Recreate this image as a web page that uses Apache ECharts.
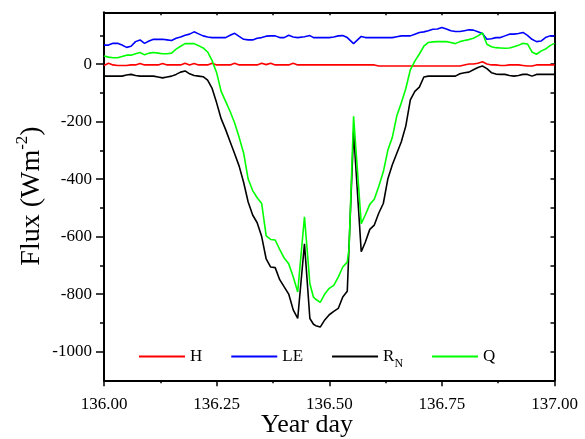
<!DOCTYPE html>
<html>
<head>
<meta charset="utf-8">
<script src="https://cdn.jsdelivr.net/npm/echarts@6/dist/echarts.min.js"></script>
<style>
html,body{margin:0;padding:0;background:#fff;}
#c{width:585px;height:439px;}
</style>
</head>
<body>
<div id="c"></div>
<script>
// Year day sample times
const times = [
136.00,136.01,136.02,136.03,136.04,136.05,136.06,136.07,136.08,136.09,
136.10,136.11,136.12,136.13,136.14,136.15,136.16,136.17,136.18,136.19,
136.20,136.21,136.22,136.23,136.24,136.25,136.26,136.27,136.28,136.29,
136.30,136.31,136.32,136.33,136.34,136.35,136.36,136.37,136.38,136.39,
136.40,136.41,136.42,136.43,
136.445,136.457,136.465,
136.47,136.48,136.49,136.50,136.51,136.52,136.53,136.54,
136.544,136.554,136.571,
136.58,136.59,
136.60,136.61,136.62,136.63,136.64,136.65,136.66,136.67,136.68,136.69,
136.70,136.71,136.72,136.73,136.74,136.75,136.76,136.77,136.78,136.79,
136.80,136.81,136.82,136.83,136.84,136.85,136.86,136.87,136.88,136.89,
136.90,136.91,136.92,136.93,136.94,136.95,136.96,136.97,136.98,136.99,
137.00
];
// Sensible heat flux H
const H = [
-5,3,-3,-5,-5,-5,-3,-3,2,-3,
-3,-3,-3,2,-3,-3,-3,-3,3,-3,
2,-3,-3,-3,3,-3,-3,-3,-3,3,
-3,-3,-3,-3,-3,3,-2,3,-3,-3,
-3,-3,3,-3,
-3,-3,-3,
-3,-3,-3,-3,-3,-3,-3,-3,
-3,-3,-3,
-3,-3,
-3,-7,-7,-7,-7,-7,-7,-7,-7,-7,
-7,-7,-7,-7,-7,-7,-7,-7,-7,-7,
-3,0,0,3,8,0,-3,-3,-5,-5,
-3,-3,-3,-5,-7,-7,-3,-3,-3,-3,
-3
];
// Latent heat flux LE
const LE = [
66,66,72,72,66,58,62,78,84,72,
80,86,86,86,84,82,90,94,100,104,
112,105,98,94,92,92,92,92,100,107,
96,86,84,84,90,92,97,98,98,92,
92,100,94,92,
95,99,92,
92,92,92,92,94,98,99,92,
88,71,96,
92,92,
92,92,92,92,92,95,98,98,98,104,
110,112,116,121,122,127,122,116,113,113,
116,119,118,112,106,86,88,92,92,98,
104,104,106,110,100,86,78,80,92,98,
98
];
// Net radiation RN
const RN = [
-42,-42,-42,-42,-42,-38,-36,-40,-42,-42,
-42,-42,-45,-48,-45,-42,-36,-28,-24,-34,
-40,-42,-44,-56,-85,-135,-190,-228,-270,-312,
-355,-412,-480,-525,-552,-600,-678,-706,-708,-750,
-775,-800,-855,-885,
-625,-885,-905,
-910,-915,-890,-872,-860,-850,-810,-790,
-788,-235,-653,
-620,-575,
-560,-518,-485,-400,-350,-310,-270,-215,-125,-95,
-80,-45,-42,-42,-42,-42,-42,-42,-42,-34,
-30,-28,-20,-12,-7,-16,-30,-35,-36,-36,
-40,-42,-40,-36,-36,-42,-36,-36,-36,-36,
-36
];
// Q
const Q = [
28,24,22,22,26,31,31,36,40,32,
38,40,38,36,36,38,52,62,71,71,
71,64,56,42,12,-30,-95,-130,-165,-205,
-255,-310,-400,-440,-465,-485,-598,-610,-612,-645,
-675,-695,-740,-793,
-531,-764,-811,
-818,-829,-800,-780,-770,-741,-706,-689,
-640,-182,-555,
-525,-488,
-470,-425,-375,-300,-255,-180,-135,-85,-20,10,
35,62,75,77,78,78,78,75,71,78,
82,85,90,98,108,69,60,57,56,55,
56,60,65,72,70,42,34,45,52,64,
72
];
const seriesNames = ['H','LE','RN','Q'];
const seriesColors = ['#ff0000','#0000ff','#000000','#00ff00'];
const seriesValues = [H, LE, RN, Q];
const yLabelValues = [0,-200,-400,-600,-800,-1000];
const yMinorValues = [100,-100,-300,-500,-700,-900];
const yAllValues = [100,0,-100,-200,-300,-400,-500,-600,-700,-800,-900,-1000];

const FONT = 'Liberation Serif';
const chart = echarts.init(document.getElementById('c'), null, {renderer:'canvas'});
const axisLine = {show:true, onZero:false, lineStyle:{color:'#000', width:2}};
const option = {
  animation:false,
  backgroundColor:'#fff',
  grid:{left:104, right:30.5, top:12.3, bottom:58.7, containLabel:false, outerBoundsMode:'none'},
  xAxis:[
    {type:'value', position:'bottom', min:136, max:137, interval:0.25,
     axisLine:axisLine,
     axisTick:{show:true, length:6, lineStyle:{color:'#000', width:1.5}},
     minorTick:{show:true, splitNumber:2, length:3, lineStyle:{color:'#000', width:1.5}},
     axisLabel:{margin:16, color:'#000', fontFamily:FONT, fontSize:17, formatter:v=>v.toFixed(2)},
     splitLine:{show:false}, minorSplitLine:{show:false}},
    {type:'value', position:'top', min:136, max:137, interval:0.25,
     axisLine:axisLine,
     axisTick:{show:true, inside:true, length:3, lineStyle:{color:'#000', width:1.5}},
     minorTick:{show:true, splitNumber:2, length:3, lineStyle:{color:'#000', width:1.5}},
     axisLabel:{show:false}, splitLine:{show:false}}
  ],
  yAxis:[
    {type:'value', position:'left', min:-1100, max:180,
     axisLine:axisLine,
     axisTick:{show:true, length:8, customValues:yLabelValues, lineStyle:{color:'#000', width:1.5}},
     axisLabel:{margin:12, color:'#000', fontFamily:FONT, fontSize:17, customValues:yLabelValues,
       formatter:v=>String(v)},
     splitLine:{show:false}},
    {type:'value', position:'left', min:-1100, max:180,
     axisLine:{show:false},
     axisTick:{show:true, length:4, customValues:yMinorValues, lineStyle:{color:'#000', width:1.5}},
     axisLabel:{show:false}, splitLine:{show:false}},
    {type:'value', position:'right', min:-1100, max:180,
     axisLine:axisLine,
     axisTick:{show:true, inside:true, length:4, customValues:yAllValues, lineStyle:{color:'#000', width:1.5}},
     axisLabel:{show:false}, splitLine:{show:false}}
  ],
  legend:{
    left:138, top:348, padding:0, itemGap:28, itemWidth:46, itemHeight:14,
    data:seriesNames,
    itemStyle:{opacity:0},
    textStyle:{fontFamily:FONT, fontSize:17, color:'#000',
      rich:{r:{fontFamily:FONT, fontSize:17, color:'#000', verticalAlign:'middle'},
            s:{fontFamily:FONT, fontSize:12, color:'#000', padding:[15,0,0,0], verticalAlign:'middle'}}},
    formatter:function(name){ return name === 'RN' ? '{r|R}{s|N}' : name; }
  },
  series: seriesNames.map((n,i)=>({
    name:n, type:'line', xAxisIndex:0, yAxisIndex:0,
    data: times.map((t,j)=>[t, seriesValues[i][j]]),
    symbol:'none', showSymbol:false, smooth:false,
    lineStyle:{color:seriesColors[i], width:1.6},
    itemStyle:{color:seriesColors[i]}
  })),
  graphic:[
    {type:'text', x:307, y:425, style:{text:'Year day', fontFamily:FONT, fontSize:26, fill:'#000', align:'center', verticalAlign:'middle'}},
    {type:'text', x:32, y:196, rotation:Math.PI/2,
     style:{text:'{a|Flux (Wm}{b|-2}{a|)}', align:'center', verticalAlign:'middle', fill:'#000',
       rich:{a:{fontFamily:FONT, fontSize:28, color:'#000', verticalAlign:'middle'},
             b:{fontFamily:FONT, fontSize:17, color:'#000', padding:[0,0,18,0], verticalAlign:'middle'}}}}
  ]
};
chart.setOption(option);
</script>
</body>
</html>
